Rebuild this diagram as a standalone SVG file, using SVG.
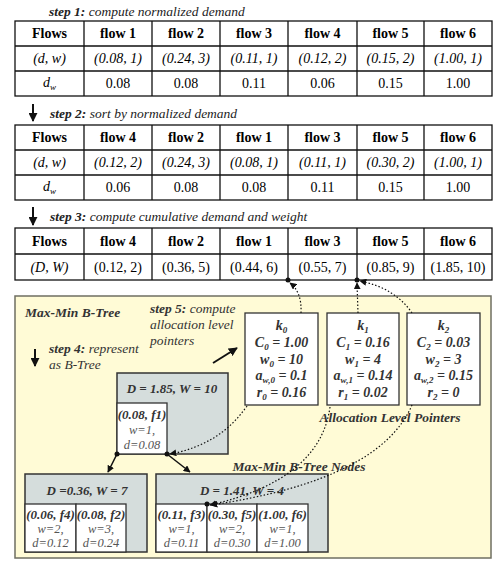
<svg xmlns="http://www.w3.org/2000/svg" width="497" height="568" viewBox="0 0 497 568" font-family="'Liberation Serif', 'Times New Roman', Tinos, serif">
<style>
text, tspan{font-family:'Liberation Serif', 'Times New Roman', Tinos, serif;}
.tb{fill:#fff;stroke:#111;stroke-width:1.3}
.tl{stroke:#111;stroke-width:1.3;fill:none}
.c{text-anchor:middle;font-size:14px;fill:#000}
.b{font-weight:bold}
.it{font-style:italic}
.st{font-size:13.5px;font-style:italic;fill:#222}
.ys{font-size:13.5px;font-style:italic;fill:#333}
.node{fill:#d5dddc;stroke:#333;stroke-width:1.5}
.wb{fill:#fff;stroke:#333;stroke-width:1.3}
.nt{text-anchor:middle;font-size:13px;font-style:italic;font-weight:bold;fill:#333}
.nv{text-anchor:middle;font-size:12.5px;font-style:italic;fill:#555}
.kt{text-anchor:middle;font-size:14px;font-style:italic;font-weight:bold;fill:#333}
.sb{font-size:9px}
.dot{stroke:#111;stroke-width:1.2;fill:none;stroke-dasharray:1.5 2}
.sol{stroke:#111;stroke-width:1.5;fill:none}
.big{stroke:#111;stroke-width:2;fill:none}
</style>
<defs>
<marker id="ah" viewBox="0 0 10 10" refX="9" refY="5" markerWidth="7" markerHeight="7" markerUnits="userSpaceOnUse" orient="auto"><path d="M0,0 L10,5 L0,10 z" fill="#111"/></marker>
<marker id="ahb" viewBox="0 0 10 10" refX="9" refY="5" markerWidth="9" markerHeight="9" markerUnits="userSpaceOnUse" orient="auto"><path d="M0,0 L10,5 L0,10 z" fill="#111"/></marker>
</defs>

<!-- step titles -->
<text x="49" y="16" class="st"><tspan font-weight="bold">step 1:</tspan> compute normalized demand</text>
<text x="50" y="118" class="st"><tspan font-weight="bold">step 2:</tspan> sort by normalized demand</text>
<text x="50" y="221" class="st"><tspan font-weight="bold">step 3:</tspan> compute cumulative demand and weight</text>

<!-- table 1 -->
<g id="table1">
<rect class="tb" x="15" y="21" width="477" height="75"/>
<path class="tl" d="M15,46H492M15,71H492M84,21V96M152,21V96M220,21V96M288,21V96M357,21V96M424,21V96"/>
<text class="c b" x="49.5" y="38">Flows</text>
<text class="c b" x="118" y="38">flow 1</text>
<text class="c b" x="186" y="38">flow 2</text>
<text class="c b" x="254" y="38">flow 3</text>
<text class="c b" x="322.5" y="38">flow 4</text>
<text class="c b" x="390.5" y="38">flow 5</text>
<text class="c b" x="458" y="38">flow 6</text>
<text class="c it" x="49.5" y="63">(d, w)</text>
<text class="c it" x="118" y="63">(0.08, 1)</text>
<text class="c it" x="186" y="63">(0.24, 3)</text>
<text class="c it" x="254" y="63">(0.11, 1)</text>
<text class="c it" x="322.5" y="63">(0.12, 2)</text>
<text class="c it" x="390.5" y="63">(0.15, 2)</text>
<text class="c it" x="458" y="63">(1.00, 1)</text>
<text class="c it" x="49.5" y="87">d<tspan class="sb" dy="3">w</tspan></text>
<text class="c" x="118" y="88">0.08</text>
<text class="c" x="186" y="88">0.08</text>
<text class="c" x="254" y="88">0.11</text>
<text class="c" x="322.5" y="88">0.06</text>
<text class="c" x="390.5" y="88">0.15</text>
<text class="c" x="458" y="88">1.00</text>
</g>

<!-- table 2 -->
<g id="table2">
<rect class="tb" x="15" y="125" width="477" height="75"/>
<path class="tl" d="M15,150H492M15,175H492M84,125V200M152,125V200M220,125V200M288,125V200M357,125V200M424,125V200"/>
<text class="c b" x="49.5" y="142">Flows</text>
<text class="c b" x="118" y="142">flow 4</text>
<text class="c b" x="186" y="142">flow 2</text>
<text class="c b" x="254" y="142">flow 1</text>
<text class="c b" x="322.5" y="142">flow 3</text>
<text class="c b" x="390.5" y="142">flow 5</text>
<text class="c b" x="458" y="142">flow 6</text>
<text class="c it" x="49.5" y="167">(d, w)</text>
<text class="c it" x="118" y="167">(0.12, 2)</text>
<text class="c it" x="186" y="167">(0.24, 3)</text>
<text class="c it" x="254" y="167">(0.08, 1)</text>
<text class="c it" x="322.5" y="167">(0.11, 1)</text>
<text class="c it" x="390.5" y="167">(0.30, 2)</text>
<text class="c it" x="458" y="167">(1.00, 1)</text>
<text class="c it" x="49.5" y="191">d<tspan class="sb" dy="3">w</tspan></text>
<text class="c" x="118" y="192">0.06</text>
<text class="c" x="186" y="192">0.08</text>
<text class="c" x="254" y="192">0.08</text>
<text class="c" x="322.5" y="192">0.11</text>
<text class="c" x="390.5" y="192">0.15</text>
<text class="c" x="458" y="192">1.00</text>
</g>

<!-- table 3 -->
<g id="table3">
<rect class="tb" x="15" y="228" width="477" height="52"/>
<path class="tl" d="M15,254H492M84,228V280M152,228V280M220,228V280M288,228V280M357,228V280M424,228V280"/>
<text class="c b" x="49.5" y="246">Flows</text>
<text class="c b" x="118" y="246">flow 4</text>
<text class="c b" x="186" y="246">flow 2</text>
<text class="c b" x="254" y="246">flow 1</text>
<text class="c b" x="322.5" y="246">flow 3</text>
<text class="c b" x="390.5" y="246">flow 5</text>
<text class="c b" x="458" y="246">flow 6</text>
<text class="c it" x="49.5" y="272">(D, W)</text>
<text class="c" x="118" y="272">(0.12, 2)</text>
<text class="c" x="186" y="272">(0.36, 5)</text>
<text class="c" x="254" y="272">(0.44, 6)</text>
<text class="c" x="322.5" y="272">(0.55, 7)</text>
<text class="c" x="390.5" y="272">(0.85, 9)</text>
<text class="c" x="458" y="272">(1.85, 10)</text>
</g>

<!-- B-tree panel -->
<g id="panel">
<rect x="15" y="296" width="476" height="262" fill="#fffbd6" stroke="#6f6f62" stroke-width="1.5"/>
<text x="25" y="317" class="ys" font-weight="bold">Max-Min B-Tree</text>
<text x="150" y="313" class="ys"><tspan font-weight="bold">step 5:</tspan> compute</text>
<text x="150" y="329" class="ys">allocation level</text>
<text x="150" y="345" class="ys">pointers</text>
<text x="49" y="353" class="ys"><tspan font-weight="bold">step 4:</tspan> represent</text>
<text x="49" y="369" class="ys">as B-Tree</text>
<text x="390" y="422" class="ys" font-weight="bold" text-anchor="middle">Allocation Level Pointers</text>
<text x="299" y="471" class="ys" font-weight="bold" text-anchor="middle">Max-Min B-Tree Nodes</text>
</g>

<!-- k boxes -->
<g id="k0">
<rect class="wb" x="245" y="313" width="73" height="92" stroke-width="1.5"/>
<text class="kt" x="281.5" y="330">k<tspan class="sb" dy="3">0</tspan></text>
<text class="kt" x="281.5" y="347">C<tspan class="sb" dy="3">0</tspan><tspan dy="-3"> = 1.00</tspan></text>
<text class="kt" x="281.5" y="364">w<tspan class="sb" dy="3">0</tspan><tspan dy="-3"> = 10</tspan></text>
<text class="kt" x="281.5" y="380">a<tspan class="sb" dy="3">w,0</tspan><tspan dy="-3"> = 0.1</tspan></text>
<text class="kt" x="281.5" y="397">r<tspan class="sb" dy="3">0</tspan><tspan dy="-3"> = 0.16</tspan></text>
</g>
<g id="k1">
<rect class="wb" x="327" y="313" width="72" height="92" stroke-width="1.5"/>
<text class="kt" x="363" y="330">k<tspan class="sb" dy="3">1</tspan></text>
<text class="kt" x="363" y="347">C<tspan class="sb" dy="3">1</tspan><tspan dy="-3"> = 0.16</tspan></text>
<text class="kt" x="363" y="364">w<tspan class="sb" dy="3">1</tspan><tspan dy="-3"> = 4</tspan></text>
<text class="kt" x="363" y="380">a<tspan class="sb" dy="3">w,1</tspan><tspan dy="-3"> = 0.14</tspan></text>
<text class="kt" x="363" y="397">r<tspan class="sb" dy="3">1</tspan><tspan dy="-3"> = 0.02</tspan></text>
</g>
<g id="k2">
<rect class="wb" x="407" y="313" width="73" height="92" stroke-width="1.5"/>
<text class="kt" x="443.5" y="330">k<tspan class="sb" dy="3">2</tspan></text>
<text class="kt" x="443.5" y="347">C<tspan class="sb" dy="3">2</tspan><tspan dy="-3"> = 0.03</tspan></text>
<text class="kt" x="443.5" y="364">w<tspan class="sb" dy="3">2</tspan><tspan dy="-3"> = 3</tspan></text>
<text class="kt" x="443.5" y="380">a<tspan class="sb" dy="3">w,2</tspan><tspan dy="-3"> = 0.15</tspan></text>
<text class="kt" x="443.5" y="397">r<tspan class="sb" dy="3">2</tspan><tspan dy="-3"> = 0</tspan></text>
</g>

<!-- tree nodes -->
<g id="root">
<rect class="node" x="117" y="373" width="111" height="81"/>
<text class="nt" x="172" y="393">D = 1.85, W = 10</text>
<rect class="wb" x="117" y="403" width="50" height="51"/>
<text class="nt" x="142" y="419">(0.08, f1)</text>
<text class="nv" x="142" y="434">w=1,</text>
<text class="nv" x="142" y="449">d=0.08</text>
</g>
<g id="nodeL">
<rect class="node" x="25" y="474" width="122" height="78"/>
<text class="nt" x="87" y="495">D =0.36, W = 7</text>
<rect class="wb" x="25" y="504" width="51" height="48"/>
<rect class="wb" x="76" y="504" width="50" height="48"/>
<text class="nt" x="50.5" y="519">(0.06, f4)</text>
<text class="nv" x="50.5" y="533">w=2,</text>
<text class="nv" x="50.5" y="547">d=0.12</text>
<text class="nt" x="101" y="519">(0.08, f2)</text>
<text class="nv" x="101" y="533">w=3,</text>
<text class="nv" x="101" y="547">d=0.24</text>
</g>
<g id="nodeR">
<rect class="node" x="156" y="474" width="172" height="78"/>
<text class="nt" x="242" y="495">D = 1.41, W = 4</text>
<rect class="wb" x="156" y="504" width="51" height="48"/>
<rect class="wb" x="207" y="504" width="50" height="48"/>
<rect class="wb" x="257" y="504" width="51" height="48"/>
<text class="nt" x="181.5" y="519">(0.11, f3)</text>
<text class="nv" x="181.5" y="533">w=1,</text>
<text class="nv" x="181.5" y="547">d=0.11</text>
<text class="nt" x="232" y="519">(0.30, f5)</text>
<text class="nv" x="232" y="533">w=2,</text>
<text class="nv" x="232" y="547">d=0.30</text>
<text class="nt" x="282.5" y="519">(1.00, f6)</text>
<text class="nv" x="282.5" y="533">w=1,</text>
<text class="nv" x="282.5" y="547">d=1.00</text>
</g>

<!-- connectors -->
<g id="connectors">
<path class="big" d="M33,104V121" marker-end="url(#ahb)"/>
<path class="big" d="M33,207V225" marker-end="url(#ahb)"/>
<path class="big" d="M35,349V366" marker-end="url(#ahb)"/>
<path class="big" d="M213,363L237,348" marker-end="url(#ahb)"/>
<path class="dot" d="M301,313Q302,292 290,283" marker-end="url(#ah)"/>
<path class="dot" d="M358,313L357,283" marker-end="url(#ah)"/>
<path class="dot" d="M412,313Q395,288 360,281" marker-end="url(#ah)"/>
<path class="dot" d="M247,406Q220,445 170,454" marker-end="url(#ah)"/>
<path class="dot" d="M330,407Q320,480 210,505" marker-end="url(#ah)"/>
<path class="dot" d="M412,405Q380,480 211,505" marker-end="url(#ah)"/>
<path class="sol" d="M117,454L108,472" marker-end="url(#ah)"/>
<path class="sol" d="M167,454L190,472" marker-end="url(#ah)"/>
<circle cx="288" cy="280" r="2.5" fill="#111"/>
<circle cx="357" cy="280" r="2.5" fill="#111"/>
<circle cx="117" cy="454" r="2.5" fill="#111"/>
<circle cx="167" cy="454" r="2.5" fill="#111"/>
<circle cx="207" cy="504" r="2.5" fill="#111"/>
</g>
</svg>
